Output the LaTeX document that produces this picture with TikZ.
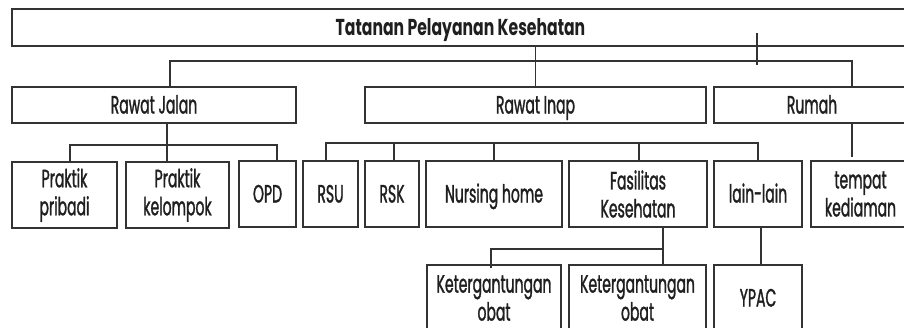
\documentclass[tikz,border=0pt]{standalone}
\usepackage{fontspec}
\setmainfont{Poppins}[FakeStretch=0.56, UprightFeatures={FakeBold=1.2}]
\newfontfamily\titlefont{Poppins}[FakeStretch=0.68]
\begin{document}
\begin{tikzpicture}[x=1pt,y=-1pt,
  box/.style={draw=black!80, line width=1.3pt, rectangle, inner sep=0pt,
    align=center, text=black!88, font=\fontsize{25}{28}\selectfont},
  oneline/.style={text height=17pt, text depth=0pt},
  link/.style={draw=black!80, line width=1.3pt}]
\useasboundingbox (0,0) rectangle (904,327);
\fill[white] (0,0) rectangle (904,327);

% level 0
\node[box, minimum width=897pt, minimum height=37pt, text height=15.5pt, text depth=0pt,
  font=\titlefont\fontsize{23}{27}\bfseries\selectfont] (top) at (460.5,27.5) {Tatanan Pelayanan Kesehatan};

% level 1
\node[box, oneline, minimum width=284pt, minimum height=36pt] (rj) at (154,105) {Rawat Jalan};
\node[box, oneline, minimum width=341pt, minimum height=36pt] (ri) at (535.5,105) {Rawat Inap};
\node[box, oneline, minimum width=196pt, minimum height=36pt] (ru) at (812,105) {Rumah};

% level 2
\node[box, minimum width=105pt, minimum height=66pt] (pp) at (64.5,195) {Praktik\\pribadi};
\node[box, minimum width=103pt, minimum height=66pt] (pk) at (177.5,195) {Praktik\\kelompok};
\node[box, oneline, minimum width=57pt, minimum height=66pt] (opd) at (267.5,194) {OPD};
\node[box, oneline, minimum width=55pt, minimum height=66pt] (rsu) at (330.5,194) {RSU};
\node[box, oneline, minimum width=54pt, minimum height=66pt] (rsk) at (392,194) {RSK};
\node[box, oneline, minimum width=136pt, minimum height=66pt] (nh) at (494,194) {Nursing home};
\node[box, minimum width=138pt, minimum height=66pt] (fk) at (638,194) {Fasilitas\\Kesehatan};
\node[box, oneline, minimum width=88pt, minimum height=66pt] (ll) at (758,194) {lain-lain};
\node[box, minimum width=99pt, minimum height=66pt] (tk) at (860.5,194) {tempat\\kediaman};

% level 3 (boxes run past the lower edge)
\node[box, minimum width=134pt, minimum height=66pt] (k1) at (494,298) {Ketergantungan\\obat};
\node[box, minimum width=137pt, minimum height=66pt] (k2) at (637.5,298) {Ketergantungan\\obat};
\node[box, oneline, minimum width=88pt, minimum height=66pt] (yp) at (758,298) {YPAC};

% level 0 -> level 1
\draw[link] (top.south -| ri) -- (ri.north);
\draw[link] (170,87) -- (170,61) -- (852,61) -- (852,87);
\coordinate (tickA) at (757,33);
\coordinate (tickB) at (757,65);
\draw[link] (tickA) -- (tickB);

% Rawat Jalan -> children
\draw[link] (167,123) -- (167,161);
\draw[link] (70,161) -- (70,145) -- (277,145) -- (277,161);

% Rawat Inap -> children
\draw[link] (326,161) -- (326,143) -- (758,143) -- (758,161);
\draw[link] (394,143) -- (394,161);
\draw[link] (494,143) -- (494,161);
\draw[link] (639,143) -- (639,161);

% Rumah -> tempat kediaman
\draw[link] (852,123) -- (852,157);

% Fasilitas Kesehatan -> Ketergantungan obat
\draw[link] (663,227) -- (663,265);
\draw[link] (491,268) -- (491,249) -- (663,249);

% lain-lain -> YPAC
\draw[link] (761,227) -- (761,265);
\end{tikzpicture}
\end{document}
